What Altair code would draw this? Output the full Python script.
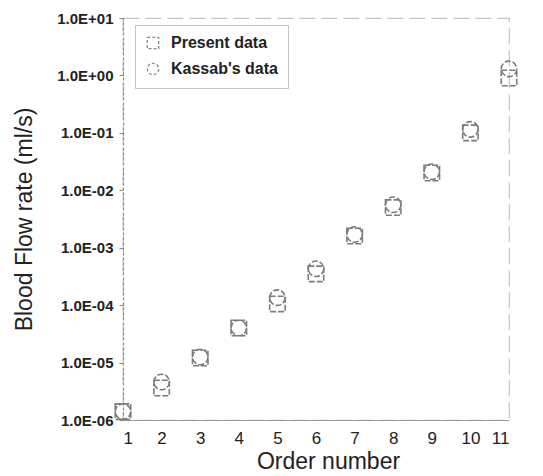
import altair as alt
import pandas as pd

orders = [1, 2, 3, 4, 5, 6, 7, 8, 9, 10, 11]
present = [1.4e-6, 3.6e-6, 1.2e-5, 4.0e-5, 1.05e-4, 3.5e-4, 1.6e-3, 5.0e-3, 2.0e-2, 1.0e-1, 0.9]
kassab = [1.4e-6, 4.6e-6, 1.25e-5, 4.0e-5, 1.35e-4, 4.3e-4, 1.7e-3, 5.6e-3, 2.1e-2, 1.15e-1, 1.3]
series = ["Present data", "Kassab's data"]
y_ticks = [1e-6, 1e-5, 1e-4, 1e-3, 1e-2, 1e-1, 1e0, 1e1]

rows = []
for o, p, k in zip(orders, present, kassab):
    rows.append({"order": o, "flow": p, "series": series[0]})
    rows.append({"order": o, "flow": k, "series": series[1]})
df = pd.DataFrame(rows)

lab = ("'1.0E' + (log(datum.value)/LN10 > -0.01 ? '+' : '-') + "
       "(abs(round(log(datum.value)/LN10)) < 10 ? '0' : '') + abs(round(log(datum.value)/LN10))")

chart = alt.Chart(df).mark_point(
    filled=False, stroke="#7c7c7c", strokeWidth=1.6, strokeDash=[6, 2], opacity=1, size=240
).encode(
    x=alt.X("order:Q",
            scale=alt.Scale(domain=[1, 11], nice=False, zero=False),
            axis=alt.Axis(values=orders, title="Order number", grid=False,
                          tickSize=0, labelPadding=10, labelFontSize=17,
                          labelFont="Liberation Sans", labelColor="#222",
                          titleFont="Liberation Sans", titleFontSize=23,
                          titleFontWeight="normal", titleColor="#222",
                          titleX=205, titleY=48, titleAlign="center",
                          titleBaseline="alphabetic",
                          domainColor="#9a9a9a", domainWidth=1.2)),
    y=alt.Y("flow:Q",
            scale=alt.Scale(type="log", domain=[1e-6, 1e1], nice=False),
            axis=alt.Axis(values=y_ticks, labelExpr=lab, title="Blood Flow rate (ml/s)",
                          grid=False, tickSize=4, tickColor="#888", labelPadding=6,
                          labelFontSize=15, labelFontWeight="bold",
                          labelFont="Liberation Sans", labelColor="#222",
                          titleFont="Liberation Sans", titleFontSize=23,
                          titleFontWeight="normal", titleColor="#222",
                          titleX=-99, titleY=201, titleAngle=-90,
                          titleAlign="center", titleBaseline="middle",
                          domainColor="#8a8a8a", domainWidth=1.2, domainDash=[3, 2])),
    shape=alt.Shape("series:N",
                    scale=alt.Scale(domain=series, range=["square", "circle"]),
                    legend=alt.Legend(title=None, orient="none", legendX=12, legendY=7,
                                      labelFontSize=16, labelFontWeight="bold",
                                      labelFont="Liberation Sans", labelColor="#222",
                                      symbolStrokeColor="#8a8a8a", symbolFillColor="transparent",
                                      symbolStrokeWidth=1.3, symbolSize=130, symbolDash=[3, 2],
                                      labelOffset=10, rowPadding=8, padding=10,
                                      strokeColor="#c4c4c4")),
).properties(
    width=386, height=402,
    autosize=alt.AutoSizeParams(type="none"),
    padding={"left": 123, "top": 18, "right": 34, "bottom": 56},
).configure_view(
    stroke="#c4c4c4", strokeWidth=1.2, strokeDash=[16, 6]
)

chart.save("out.html", embed_options={"renderer": "svg", "actions": False})
